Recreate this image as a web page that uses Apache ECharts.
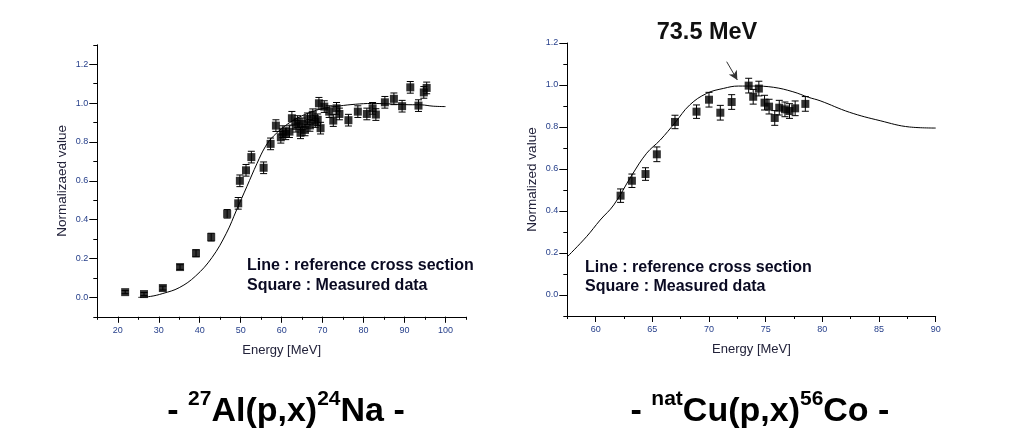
<!DOCTYPE html>
<html>
<head>
<meta charset="utf-8">
<script src="https://cdn.jsdelivr.net/npm/echarts@6/dist/echarts.min.js"></script>
<style>
html,body{margin:0;padding:0;background:#fff;}
#chart{width:1011px;height:442px;}
</style>
</head>
<body>
<div id="chart"></div>
<script>
// ---- Left chart: 27Al(p,x)24Na ----
const alX = [21.8,26.4,31.0,35.2,39.1,42.8,46.7,49.4,49.8,51.3,52.6,55.6,57.3,58.6,59.8,60.3,61.0,61.9,62.5,63.5,63.9,64.6,65.0,65.7,66.3,66.9,67.6,68.2,68.8,69.5,69.1,70.4,71.6,72.6,73.4,74.1,76.3,78.6,80.8,82.2,83.0,85.2,87.4,89.4,91.4,93.4,94.7,95.4];
const alY = [0.027,0.017,0.048,0.156,0.227,0.31,0.43,0.484,0.60,0.654,0.722,0.667,0.79,0.884,0.824,0.853,0.842,0.853,0.922,0.881,0.905,0.847,0.893,0.862,0.919,0.885,0.94,0.905,0.914,0.871,0.999,0.982,0.956,0.91,0.973,0.944,0.912,0.956,0.944,0.973,0.941,1.004,1.022,0.984,1.081,0.987,1.055,1.078];
const alErr = [0.008,0.008,0.01,0.012,0.018,0.02,0.022,0.03,0.03,0.03,0.03,0.03,0.03,0.03,0.03,0.03,0.03,0.03,0.035,0.03,0.03,0.03,0.03,0.03,0.03,0.03,0.03,0.03,0.03,0.03,0.03,0.03,0.03,0.03,0.03,0.03,0.03,0.03,0.03,0.03,0.03,0.03,0.03,0.03,0.03,0.03,0.03,0.03];
const alLineX = [25,28,31,35,39,43,46.5,49,51.5,54,56,58,62,66,70,74,78,82,86,90,94,97,100];
const alLineY = [0,0.005,0.02,0.05,0.11,0.205,0.33,0.45,0.57,0.69,0.775,0.83,0.9,0.944,0.972,0.985,0.994,0.998,0.996,0.992,0.991,0.984,0.982];
const alXTicks = [20,30,40,50,60,70,80,90,100];

// ---- Right chart: natCu(p,x)56Co ----
const cuX = [62.2,63.2,64.4,65.4,67.0,68.9,70.0,71.0,72.0,73.5,73.9,74.4,74.9,75.3,75.8,76.2,76.7,77.1,77.6,78.5];
const cuY = [0.473,0.544,0.576,0.67,0.824,0.873,0.93,0.868,0.919,0.997,0.944,0.983,0.916,0.897,0.843,0.892,0.884,0.876,0.889,0.91];
const cuErr = [0.032,0.032,0.03,0.035,0.032,0.032,0.035,0.035,0.035,0.035,0.035,0.035,0.035,0.035,0.035,0.035,0.035,0.035,0.035,0.035];
const cuLineX = [57.5,59.2,60.4,61.6,63.2,64.5,65.7,67.0,68.3,69.8,71.3,72.6,73.9,75.7,77.4,78.8,79.8,82.4,85.1,87.7,90];
const cuLineY = [0.182,0.278,0.357,0.429,0.571,0.675,0.738,0.82,0.905,0.96,0.984,0.995,0.995,0.989,0.968,0.941,0.925,0.87,0.83,0.80,0.795];
const cuXTicks = [60,65,70,75,80,85,90];

const yTicks = [0,0.2,0.4,0.6,0.8,1.0,1.2];

const peakLabel = '73.5 MeV';
const arrowFrom = [71.56, 1.111];
const arrowTo = [72.5, 1.024];

// ---- helpers ----
const zip = (xs, ys) => xs.map((x, i) => [x, ys[i]]);
const zip3 = (xs, ys, es) => xs.map((x, i) => [x, ys[i], es[i]]);
const labelColor = '#27408b';
const nameColor = '#22223a';

function errRender(params, api) {
  const x = api.value(0), y = api.value(1), e = api.value(2);
  const t = api.coord([x, y + e]);
  const b = api.coord([x, y - e]);
  const w = 3.5;
  const st = {stroke: '#000', lineWidth: 1};
  return {type: 'group', children: [
    {type: 'line', shape: {x1: t[0], y1: t[1], x2: b[0], y2: b[1]}, style: st},
    {type: 'line', shape: {x1: t[0] - w, y1: t[1], x2: t[0] + w, y2: t[1]}, style: st},
    {type: 'line', shape: {x1: b[0] - w, y1: b[1], x2: b[0] + w, y2: b[1]}, style: st}
  ]};
}

function xMain(grid, min, max, step, labels, name) {
  return {
    type: 'value', gridIndex: grid, position: 'bottom', min: min, max: max, interval: step,
    name: name, nameLocation: 'middle', nameGap: 27,
    nameTextStyle: {fontSize: 13, color: nameColor, fontFamily: 'Liberation Sans'},
    axisLine: {show: true, onZero: false, lineStyle: {color: '#000', width: 1}},
    axisTick: {show: true, length: 3, inside: false, lineStyle: {color: '#000'}},
    axisLabel: {show: true, customValues: labels, fontSize: 9, color: labelColor, margin: 9, fontFamily: 'Liberation Sans'},
    splitLine: {show: false}
  };
}
function xMajor(grid, min, max, ticks) {
  return {
    type: 'value', gridIndex: grid, position: 'bottom', offset: 0, min: min, max: max,
    axisLine: {show: false, onZero: false},
    axisTick: {show: true, length: 6, customValues: ticks, lineStyle: {color: '#000'}},
    axisLabel: {show: false}, splitLine: {show: false}
  };
}
function yMain(grid, min, max, name) {
  return {
    type: 'value', gridIndex: grid, position: 'left', min: min, max: max, interval: 0.1,
    name: name, nameLocation: 'middle', nameGap: 28,
    nameTextStyle: {fontSize: 13.5, color: nameColor, fontFamily: 'Liberation Sans'},
    axisLine: {show: true, onZero: false, lineStyle: {color: '#000', width: 1}},
    axisTick: {show: true, length: 4, lineStyle: {color: '#000'}},
    axisLabel: {show: true, customValues: yTicks, fontSize: 9, color: labelColor, margin: 9,
      fontFamily: 'Liberation Sans', formatter: v => Number(v).toFixed(1)},
    splitLine: {show: false}
  };
}
function yMajor(grid, min, max) {
  return {
    type: 'value', gridIndex: grid, position: 'left', offset: 0, min: min, max: max,
    axisLine: {show: false, onZero: false},
    axisTick: {show: true, length: 8, customValues: yTicks, lineStyle: {color: '#000'}},
    axisLabel: {show: false}, splitLine: {show: false}
  };
}

const titleFont = 'Liberation Sans Narrow, Arial Narrow, Liberation Sans, Arial, sans-serif';
const richTitle = {
  a: {fontSize: 34, fontWeight: 'bold', fontFamily: titleFont, color: '#000', verticalAlign: 'bottom', lineHeight: 40},
  s: {fontSize: 21, fontWeight: 'bold', fontFamily: titleFont, color: '#000', verticalAlign: 'top', lineHeight: 40}
};
const noteStyle = {fontSize: 16, fontWeight: 'bold', fontFamily: 'Liberation Sans, Arial, sans-serif', fill: '#0a0a22'};

const chart = echarts.init(document.getElementById('chart'), null, {renderer: 'canvas'});
chart.setOption({
  backgroundColor: '#fff',
  animation: false,
  grid: [
    {left: 97.3, top: 44.8, width: 368.7, height: 272, containLabel: false},
    {left: 567.3, top: 43, width: 368.4, height: 273, containLabel: false}
  ],
  xAxis: [
    xMain(0, 15, 105, 5, alXTicks, 'Energy [MeV]'),
    xMajor(0, 15, 105, alXTicks),
    xMain(1, 57.5, 90, 2.5, cuXTicks, 'Energy [MeV]'),
    xMajor(1, 57.5, 90, cuXTicks)
  ],
  yAxis: [
    yMain(0, -0.1, 1.3, 'Normalizaed value'),
    yMajor(0, -0.1, 1.3),
    yMain(1, -0.1, 1.2, 'Normalized value'),
    yMajor(1, -0.1, 1.2)
  ],
  series: [
    {type: 'line', xAxisIndex: 0, yAxisIndex: 0, data: zip(alLineX, alLineY), smooth: 0.4,
      showSymbol: false, lineStyle: {color: '#000', width: 1}, silent: true},
    {type: 'custom', xAxisIndex: 0, yAxisIndex: 0, data: zip3(alX, alY, alErr), renderItem: errRender, silent: true},
    {type: 'scatter', xAxisIndex: 0, yAxisIndex: 0, data: zip(alX, alY), symbol: 'rect', symbolSize: 8,
      itemStyle: {color: '#000'}, silent: true},
    {type: 'line', xAxisIndex: 2, yAxisIndex: 2, data: zip(cuLineX, cuLineY), smooth: 0.4,
      showSymbol: false, lineStyle: {color: '#000', width: 1}, silent: true},
    {type: 'custom', xAxisIndex: 2, yAxisIndex: 2, data: zip3(cuX, cuY, cuErr), renderItem: errRender, silent: true},
    {type: 'scatter', xAxisIndex: 2, yAxisIndex: 2, data: zip(cuX, cuY), symbol: 'rect', symbolSize: 8,
      itemStyle: {color: '#000'}, silent: true,
      markLine: {silent: true, symbol: ['none', 'arrow'], symbolSize: [7, 9], animation: false,
        label: {show: false}, lineStyle: {color: '#333', width: 1, type: 'solid'},
        data: [[{coord: arrowFrom}, {coord: arrowTo}]]}}
  ],
  graphic: [
    {type: 'text', x: 707, y: 33, style: {text: peakLabel, align: 'center', verticalAlign: 'middle',
      fontSize: 23.5, fontWeight: 'bold', fontFamily: 'Liberation Sans, Arial, sans-serif', fill: '#111'}},
    {type: 'text', x: 247, y: 266, style: Object.assign({text: 'Line : reference cross section', verticalAlign: 'middle'}, noteStyle)},
    {type: 'text', x: 247, y: 286, style: Object.assign({text: 'Square : Measured data', verticalAlign: 'middle'}, noteStyle)},
    {type: 'text', x: 585, y: 268, style: Object.assign({text: 'Line : reference cross section', verticalAlign: 'middle'}, noteStyle)},
    {type: 'text', x: 585, y: 287, style: Object.assign({text: 'Square : Measured data', verticalAlign: 'middle'}, noteStyle)},
    {type: 'text', x: 286, y: 409, style: {text: '{a|- }{s|27}{a|Al(p,x)}{s|24}{a|Na -}', rich: richTitle,
      align: 'center', verticalAlign: 'middle'}},
    {type: 'text', x: 760, y: 409, style: {text: '{a|- }{s|nat}{a|Cu(p,x)}{s|56}{a|Co -}', rich: richTitle,
      align: 'center', verticalAlign: 'middle'}}
  ]
});
</script>
</body>
</html>
